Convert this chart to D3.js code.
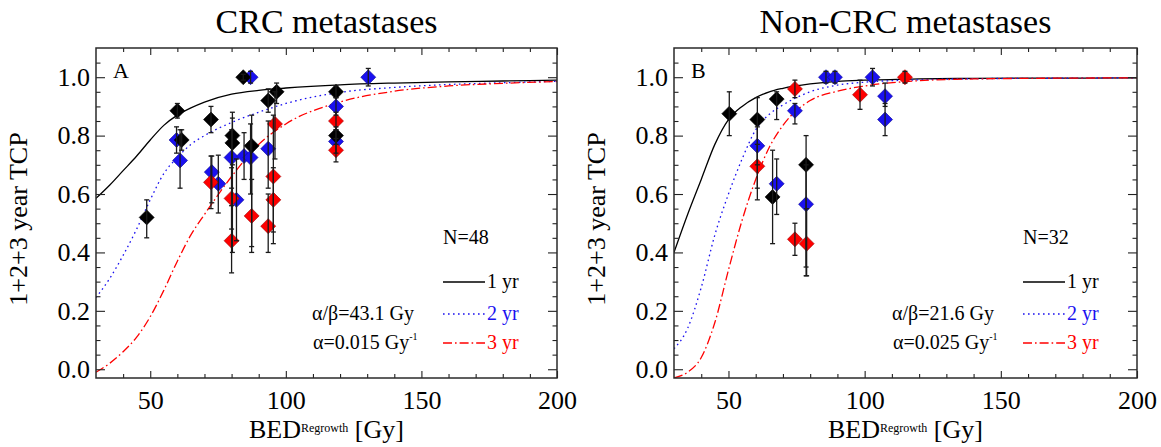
<!DOCTYPE html>
<html>
<head>
<meta charset="utf-8">
<script src="https://cdn.jsdelivr.net/npm/d3@7"></script>
<style>
  body { margin: 0; background: #fff; }
  svg { display: block; }
  svg text { font-family: "Liberation Serif", "Times New Roman", Times, serif; }
</style>
</head>
<body>
<svg id="chart" width="1161" height="447"></svg>
<script>
// grid for the fitted curves (Gy)
const bedGrid = [30, 35, 40, 45, 50, 55, 60, 65, 70, 80, 90, 100, 120, 140, 160, 180, 200];

// fitted curves
const crcFit1 = [0.585, 0.63, 0.68, 0.73, 0.785, 0.835, 0.87, 0.895, 0.915, 0.942, 0.955, 0.963, 0.974, 0.98, 0.984, 0.987, 0.99];
const crcFit2 = [0.245, 0.31, 0.39, 0.48, 0.58, 0.67, 0.725, 0.77, 0.80, 0.845, 0.88, 0.91, 0.948, 0.965, 0.975, 0.981, 0.986];
const crcFit3 = [-0.01, 0.02, 0.06, 0.11, 0.18, 0.27, 0.37, 0.46, 0.53, 0.66, 0.77, 0.84, 0.915, 0.952, 0.97, 0.979, 0.985];
const nonFit1 = [0.40, 0.53, 0.65, 0.77, 0.855, 0.90, 0.93, 0.95, 0.962, 0.977, 0.986, 0.99, 0.994, 0.996, 0.997, 0.997, 0.998];
const nonFit2 = [0.07, 0.14, 0.28, 0.46, 0.60, 0.72, 0.82, 0.873, 0.905, 0.95, 0.973, 0.983, 0.991, 0.995, 0.996, 0.997, 0.998];
const nonFit3 = [-0.03, -0.01, 0.04, 0.16, 0.34, 0.51, 0.65, 0.76, 0.835, 0.92, 0.952, 0.97, 0.988, 0.994, 0.996, 0.997, 0.998];

// CRC data points (1, 2, 3 yr)
const crc1Bed = [48.7, 60.0, 61.6, 72.4, 80.3, 80.3, 84.3, 87.4, 93.5, 96.6, 118.5, 118.5];
const crc1Tcp = [0.52, 0.885, 0.785, 0.855, 0.80, 0.775, 1.0, 0.765, 0.92, 0.95, 0.95, 0.80];
const crc1Lo  = [0.45, 0.86, 0.75, 0.81, 0.70, 0.40, 0.99, 0.42, 0.88, 0.91, 0.93, 0.77];
const crc1Hi  = [0.58, 0.91, 0.82, 0.90, 0.88, 0.86, 1.01, 0.87, 0.96, 0.98, 0.97, 0.83];

const crc2Bed = [59.7, 61.0, 72.7, 75.1, 80.0, 81.8, 84.6, 87.0, 87.0, 93.5, 118.5, 118.5, 130.4];
const crc2Tcp = [0.785, 0.715, 0.675, 0.635, 0.725, 0.58, 0.73, 0.725, 1.0, 0.755, 0.90, 0.78, 1.0];
const crc2Lo  = [0.74, 0.62, 0.57, 0.535, 0.62, 0.44, 0.65, 0.60, 0.98, 0.62, 0.87, 0.74, 0.97];
const crc2Hi  = [0.83, 0.82, 0.73, 0.733, 0.82, 0.72, 0.81, 0.84, 1.02, 0.85, 0.93, 0.82, 1.03];

const crc3Bed = [72.4, 80.0, 80.0, 87.4, 93.5, 95.4, 95.4, 96.0, 118.5, 118.5];
const crc3Tcp = [0.64, 0.585, 0.44, 0.525, 0.49, 0.66, 0.58, 0.84, 0.85, 0.75];
const crc3Lo  = [0.55, 0.48, 0.33, 0.40, 0.40, 0.43, 0.47, 0.72, 0.82, 0.71];
const crc3Hi  = [0.73, 0.69, 0.56, 0.65, 0.60, 0.87, 0.69, 0.95, 0.88, 0.79];

// Non-CRC data points
const non1Bed = [50.3, 60.6, 66.2, 67.7, 78.5];
const non1Tcp = [0.875, 0.855, 0.59, 0.925, 0.70];
const non1Lo  = [0.80, 0.58, 0.43, 0.855, 0.32];
const non1Hi  = [0.95, 0.93, 0.75, 0.95, 0.80];

const non2Bed = [60.6, 67.7, 74.4, 78.5, 85.8, 89.1, 102.9, 107.5, 107.5];
const non2Tcp = [0.765, 0.635, 0.885, 0.565, 1.0, 1.0, 1.0, 0.935, 0.855];
const non2Lo  = [0.70, 0.53, 0.84, 0.35, 0.98, 0.98, 0.97, 0.90, 0.80];
const non2Hi  = [0.83, 0.72, 0.91, 0.70, 1.02, 1.02, 1.03, 0.98, 0.91];

const non3Bed = [60.6, 74.4, 74.4, 78.7, 98.3, 114.8];
const non3Tcp = [0.695, 0.96, 0.445, 0.43, 0.94, 1.0];
const non3Lo  = [0.62, 0.93, 0.39, 0.32, 0.89, 0.98];
const non3Hi  = [0.77, 0.99, 0.50, 0.55, 0.99, 1.02];

const xMajor = [50, 100, 150, 200];
const yMajor = [0, 0.2, 0.4, 0.6, 0.8, 1.0];

const colors = ['#000000', '#1a10f0', '#ff0000'];
const strokes = ['#000000', '#0a0890', '#a00000'];
const dashes = [null, '1.6,3.4', '9,3,1.6,3'];
const yrLabels = ['1 yr', '2 yr', '3 yr'];
const serif = '"Liberation Serif", "Times New Roman", Times, serif';

const svg = d3.select('#chart');
const top_ = 48, bottom = 378;

function zip(bed, tcp, lo, hi) {
    return bed.map((b, i) => ({ bed: b, tcp: tcp[i], lo: lo[i], hi: hi[i] }));
}

function drawPanel(cfg) {
    const x = d3.scaleLinear().domain([30, 200]).range([cfg.x0, cfg.x1]);
    const y = d3.scaleLinear().domain([-0.03, 1.1]).range([bottom, top_]);
    const g = svg.append('g');

    const clipId = 'clip' + cfg.label;
    svg.append('clipPath').attr('id', clipId)
        .append('rect')
        .attr('x', cfg.x0).attr('y', top_)
        .attr('width', cfg.x1 - cfg.x0).attr('height', bottom - top_);

    // curves
    const line = d3.line().x((d, i) => x(bedGrid[i])).y(d => y(d)).curve(d3.curveMonotoneX);
    cfg.fits.forEach((f, k) => {
        g.append('path')
            .attr('d', line(f))
            .attr('fill', 'none')
            .attr('stroke', colors[k])
            .attr('stroke-width', 1.3)
            .attr('stroke-dasharray', dashes[k])
            .attr('clip-path', `url(#${clipId})`);
    });

    // diamonds, blue then black then red
    const diamond = r => `M0,${-r}L${r},0L0,${r}L${-r},0Z`;
    [1, 0, 2].forEach(k => {
        g.append('g').selectAll('path')
            .data(cfg.points[k])
            .enter().append('path')
            .attr('d', diamond(7.5))
            .attr('transform', d => `translate(${x(d.bed)},${y(d.tcp)})`)
            .attr('fill', colors[k])
            .attr('stroke', strokes[k])
            .attr('stroke-width', 0.6);
    });

    // error bars on top
    const allPts = cfg.points.flat();
    const eb = g.append('g').attr('stroke', '#1a1a1a').attr('stroke-width', 1.3);
    allPts.forEach(d => {
        const cx = x(d.bed);
        eb.append('line').attr('x1', cx).attr('x2', cx).attr('y1', y(d.lo)).attr('y2', y(d.hi));
        eb.append('line').attr('x1', cx - 2.5).attr('x2', cx + 2.5).attr('y1', y(d.lo)).attr('y2', y(d.lo));
        eb.append('line').attr('x1', cx - 2.5).attr('x2', cx + 2.5).attr('y1', y(d.hi)).attr('y2', y(d.hi));
    });

    // axes
    const xMinor = d3.range(40, 201, 10).filter(v => !xMajor.includes(v));
    const yMinor = d3.range(0.05, 1.1, 0.05).filter(v => !yMajor.some(m => Math.abs(m - v) < 1e-6));

    const ax = svg.append('g');
    const style = sel => {
        sel.attr('font-family', serif);
        sel.select('.domain').remove();
        sel.selectAll('line').attr('stroke', '#222').attr('stroke-width', 1.1);
        sel.selectAll('text').attr('font-size', 26).attr('fill', '#000').style('font-family', serif);
    };
    ax.append('g').attr('transform', `translate(0,${bottom})`)
        .call(d3.axisBottom(x).tickValues(xMajor).tickSizeInner(-7).tickSizeOuter(0).tickPadding(13).tickFormat(d3.format('d'))).call(style);
    ax.append('g').attr('transform', `translate(0,${bottom})`)
        .call(d3.axisBottom(x).tickValues(xMinor).tickSizeInner(-4).tickSizeOuter(0).tickFormat('')).call(style);
    ax.append('g').attr('transform', `translate(0,${top_})`)
        .call(d3.axisTop(x).tickValues(xMajor).tickSizeInner(-7).tickSizeOuter(0).tickFormat('')).call(style);
    ax.append('g').attr('transform', `translate(0,${top_})`)
        .call(d3.axisTop(x).tickValues(xMinor).tickSizeInner(-4).tickSizeOuter(0).tickFormat('')).call(style);
    ax.append('g').attr('transform', `translate(${cfg.x0},0)`)
        .call(d3.axisLeft(y).tickValues(yMajor).tickSizeInner(-9).tickSizeOuter(0).tickPadding(6).tickFormat(d3.format('.1f'))).call(style);
    ax.append('g').attr('transform', `translate(${cfg.x0},0)`)
        .call(d3.axisLeft(y).tickValues(yMinor).tickSizeInner(-4.5).tickSizeOuter(0).tickFormat('')).call(style);
    ax.append('g').attr('transform', `translate(${cfg.x1},0)`)
        .call(d3.axisRight(y).tickValues(yMajor).tickSizeInner(-9).tickSizeOuter(0).tickFormat('')).call(style);
    ax.append('g').attr('transform', `translate(${cfg.x1},0)`)
        .call(d3.axisRight(y).tickValues(yMinor).tickSizeInner(-4.5).tickSizeOuter(0).tickFormat('')).call(style);

    svg.append('rect')
        .attr('x', cfg.x0).attr('y', top_)
        .attr('width', cfg.x1 - cfg.x0).attr('height', bottom - top_)
        .attr('fill', 'none').attr('stroke', '#2a2a2a').attr('stroke-width', 1.5);

    // titles
    svg.append('text')
        .attr('x', (cfg.x0 + cfg.x1) / 2).attr('y', 33)
        .attr('text-anchor', 'middle').attr('font-size', 34)
        .text(cfg.title);

    const xl = svg.append('text')
        .attr('x', (cfg.x0 + cfg.x1) / 2).attr('y', 438)
        .attr('text-anchor', 'middle').attr('font-size', 26);
    xl.append('tspan').text('BED');
    xl.append('tspan').attr('font-size', 12).attr('dy', -6).text('Regrowth');
    xl.append('tspan').attr('dy', 6).text(' [Gy]');

    svg.append('text')
        .attr('transform', `translate(${cfg.x0 - 69},${(top_ + bottom) / 2 + 6}) rotate(-90)`)
        .attr('text-anchor', 'middle').attr('font-size', 26)
        .text('1+2+3 year TCP');

    svg.append('text')
        .attr('x', cfg.x0 + 17).attr('y', 78)
        .attr('font-size', 22).text(cfg.label);

    // legend
    const lx = cfg.x1 - 114;
    svg.append('text').attr('x', lx).attr('y', 244).attr('font-size', 20).text(cfg.n);
    [282, 314, 343].forEach((ly, k) => {
        svg.append('line')
            .attr('x1', lx).attr('x2', lx + 42).attr('y1', ly).attr('y2', ly)
            .attr('stroke', colors[k]).attr('stroke-width', 1.3)
            .attr('stroke-dasharray', dashes[k]);
        svg.append('text').attr('x', lx + 44).attr('y', ly + 6)
            .attr('font-size', 20).attr('fill', colors[k]).text(yrLabels[k]);
    });
    svg.append('text').attr('x', cfg.x1 - 245).attr('y', 320).attr('font-size', 20).text(cfg.ab);
    const at = svg.append('text').attr('x', cfg.x1 - 244).attr('y', 349).attr('font-size', 20);
    at.append('tspan').text(cfg.alpha);
    at.append('tspan').attr('font-size', 10).attr('dy', -9).text('-1');
}

drawPanel({
    x0: 96, x1: 557, label: 'A', title: 'CRC metastases', n: 'N=48',
    ab: 'α/β=43.1 Gy', alpha: 'α=0.015 Gy',
    fits: [crcFit1, crcFit2, crcFit3],
    points: [zip(crc1Bed, crc1Tcp, crc1Lo, crc1Hi), zip(crc2Bed, crc2Tcp, crc2Lo, crc2Hi), zip(crc3Bed, crc3Tcp, crc3Lo, crc3Hi)]
});

drawPanel({
    x0: 674, x1: 1137, label: 'B', title: 'Non-CRC metastases', n: 'N=32',
    ab: 'α/β=21.6 Gy', alpha: 'α=0.025 Gy',
    fits: [nonFit1, nonFit2, nonFit3],
    points: [zip(non1Bed, non1Tcp, non1Lo, non1Hi), zip(non2Bed, non2Tcp, non2Lo, non2Hi), zip(non3Bed, non3Tcp, non3Lo, non3Hi)]
});
</script>
</body>
</html>
